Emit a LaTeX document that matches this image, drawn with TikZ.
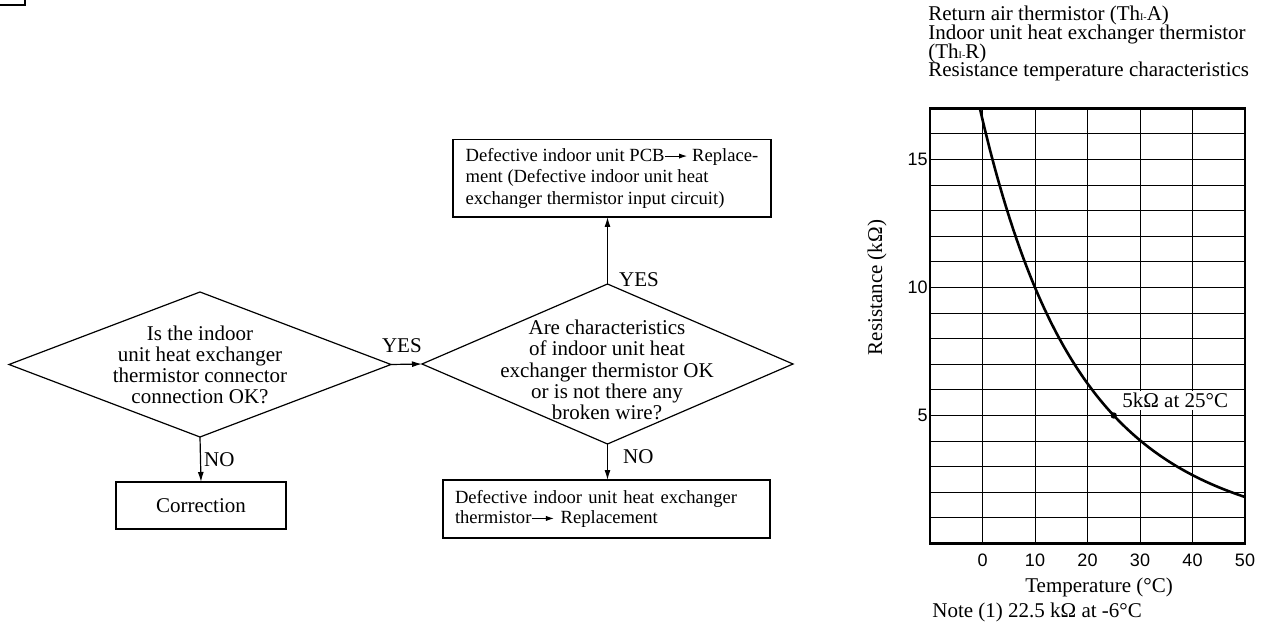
\documentclass[tikz,border=0pt]{standalone}
\usepackage{fontspec}
\setmainfont{Liberation Serif}
\setsansfont{Liberation Sans}
\usetikzlibrary{shapes.geometric,arrows.meta,positioning}

% small arrow used inside the box texts
\newcommand{\pointer}{\tikz[baseline=-0.6ex]\draw[line width=0.5pt,-{Latex[length=4pt,width=2.6pt]}] (0pt,0pt) -- (11pt,0pt);}

\begin{document}
\begin{tikzpicture}[x=0.5pt,y=-0.5pt]
  % Styling
  \tikzset{
    decision/.style={
      diamond,
      draw=black,
      line width=0.6pt,
      inner sep=0pt,
      outer sep=0pt
    },
    question/.style={
      align=center,
      inner sep=0pt,
      font=\fontsize{10.5}{10.6}\selectfont
    },
    box/.style={
      rectangle,
      draw=black,
      line width=0.6pt,
      outer sep=0pt,
      inner ysep=0pt
    },
    arrow/.style={
      -{Latex[length=5pt, width=3pt]},
      line width=0.6pt,
      black
    },
    tag/.style={
      font=\fontsize{10.5}{12}\selectfont,
      inner sep=1.5pt
    },
    gridline/.style={line width=0.5pt},
    frame/.style={line width=1.3pt},
    curve/.style={line width=1.3pt},
    tick/.style={font=\sffamily\fontsize{9}{10}\selectfont, inner sep=1pt},
    caption/.style={font=\fontsize{10.5}{12}\selectfont, inner sep=0pt}
  }
  \useasboundingbox (0,0) rectangle (1266,626);

  % ===== Corner of previous box =====
  \draw[line width=1pt] (0,5.5) -- (25,5.5) -- (25,0);

  % ===== Flowchart =====
  % Decisions
  \node[decision, minimum width=191pt, minimum height=72.5pt] (conn) at (200,364.5) {};
  \node[question] (conntext) at (200,365) {Is the indoor\\unit heat exchanger\\thermistor connector\\connection OK?};
  \node[decision, minimum width=185.5pt, minimum height=80pt] (chk) at (607.5,364) {};
  \node[question] (chktext) at (607,370) {Are characteristics\\of indoor unit heat\\exchanger thermistor OK\\or is not there any\\broken wire?};

  % Result boxes
  \node[box, minimum width=85pt, minimum height=23.5pt, font=\fontsize{10.5}{12}\selectfont] (fix) at (201,505.5) {Correction};
  \node[box, minimum width=159pt, minimum height=38.75pt, align=left,
        font=\fontsize{9.3}{10.8}\selectfont] (pcb) at (612,178.25)
    {Defective indoor unit PCB\pointer\ Replace-\\ment (Defective indoor unit heat\\exchanger thermistor input circuit)};
  \node[box, text width=151.5pt, inner xsep=6pt, minimum height=29pt, align=left,
        font=\fontsize{9.3}{10}\selectfont] (sensor) at (606.5,509)
    {Defective indoor unit heat exchanger\\thermistor\pointer\ Replacement};

  % Arrows
  \draw[arrow] (conn.east) -- node[tag, above, pos=0.35, yshift=4pt] (yes1) {YES} (chk.west);
  \draw[arrow] (conn.south) -- node[tag, right, pos=0.5] (no1) {NO} (fix.north);
  \draw[arrow] (chk.north) -- node[tag, right, pos=0.07, xshift=4pt] (yes2) {YES} (chk.north |- pcb.south);
  \draw[arrow] (chk.south) -- node[tag, right, pos=0.36, xshift=6pt] (no2) {NO} (chk.south |- sensor.north);

  % ===== Characteristics chart =====
  \node[caption, anchor=north west, align=left, font={\fontsize{10.5}{9.3}\selectfont\lineskiplimit=-10pt}] (title) at (928,6)
    {Return air thermistor (Th{\fontsize{5}{5}\selectfont I-}A)\\Indoor unit heat exchanger thermistor\\(Th{\fontsize{5}{5}\selectfont I-}R)\\Resistance temperature characteristics};

  \begin{scope}[shift={(982.5,543.5)}, x=2.625pt, y=12.8pt]
    % grid
    \foreach \t in {0,10,...,40}
      \draw[gridline] (\t,0) -- (\t,17);
    \foreach \r in {1,...,16}
      \draw[gridline] (-10,\r) -- (50,\r);
    \draw[frame] (-10,0) rectangle (50,17);

    % curve
    \begin{scope}
      \clip (-10,0) rectangle (50,17);
      \draw[curve] plot[domain=-0.5:50, samples=80, smooth] (\x, {5*exp(13.084*(25-\x)/(\x+273.15))});
    \end{scope}
    \fill (25,5) circle (1.6pt);
    \node[caption, fill=white, inner sep=1pt] (spot) at (36.7,5.6) {5kΩ at 25°C};

    % axes
    \foreach \t in {0,10,...,50}
      \node[tick] (xt\t) at (\t,-0.64) {\t};
    \foreach \r in {5,10,15}
      \node[tick, anchor=east] (yt\r) at (-10,\r) {\r};
    \node[caption, rotate=90] (ylab) at (-20.1,10) {Resistance (kΩ)};
    \node[caption] (xlab) at (22.2,-1.7) {Temperature (°C)};
    \node[caption, anchor=west] (note) at (-9.62,-2.71) {Note (1) 22.5 kΩ at -6°C};
  \end{scope}
\end{tikzpicture}
\end{document}
